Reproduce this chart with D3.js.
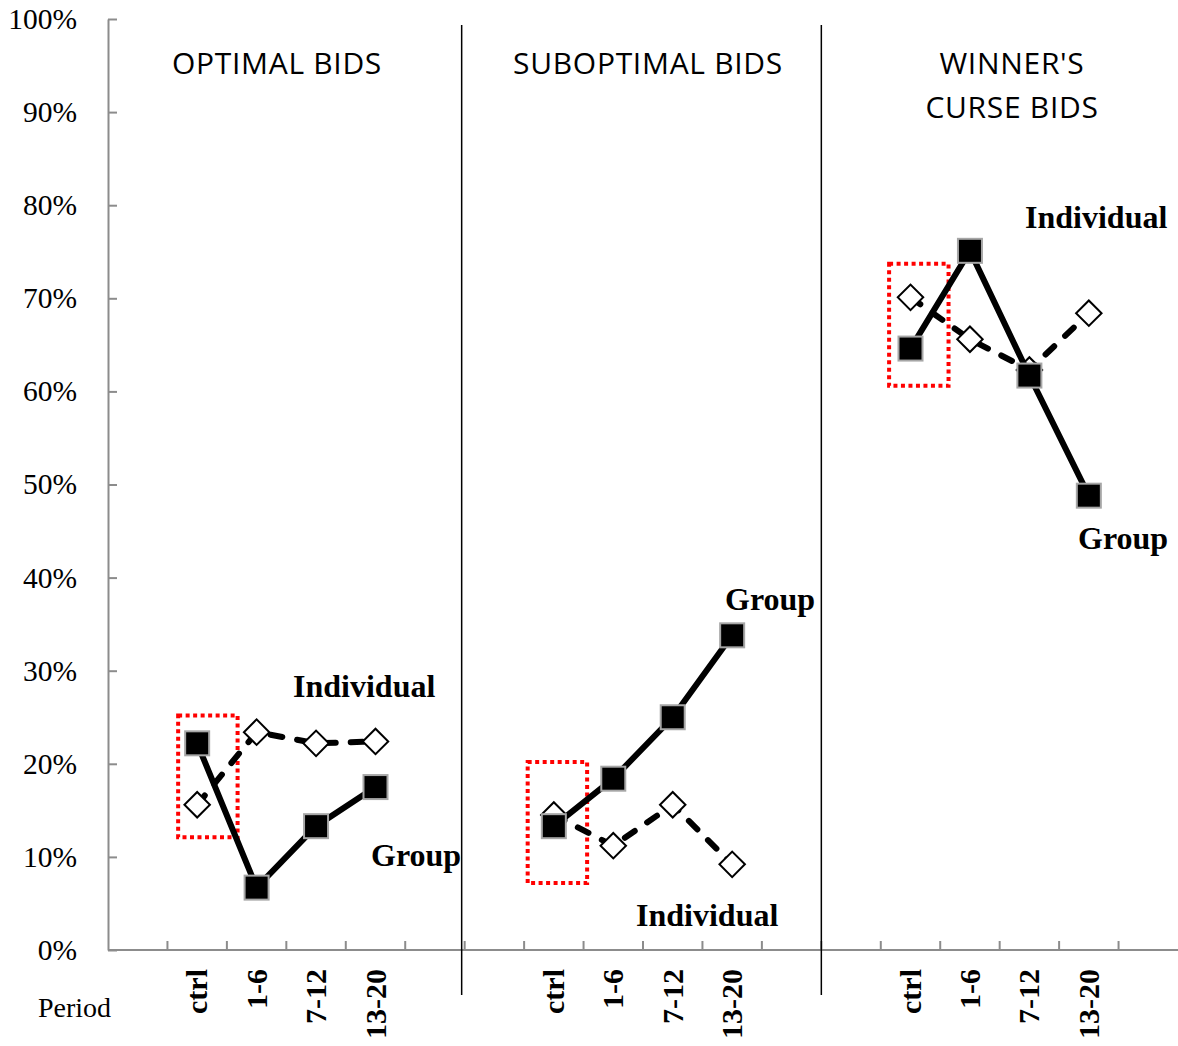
<!DOCTYPE html>
<html>
<head>
<meta charset="utf-8">
<script src="https://cdn.jsdelivr.net/npm/d3@7"></script>
<style>
  html, body { margin: 0; padding: 0; background: #fff; }
  svg { display: block; }
</style>
</head>
<body>
<svg id="chart" width="1178" height="1046"></svg>
<script>
// ---------- DATA ----------
const periods = ["ctrl", "1-6", "7-12", "13-20"];
const panelTitles = [["OPTIMAL BIDS"], ["SUBOPTIMAL BIDS"], ["WINNER'S", "CURSE BIDS"]];
const groupValues = [
  [0.222, 0.067, 0.133, 0.175],
  [0.133, 0.184, 0.250, 0.338],
  [0.646, 0.751, 0.617, 0.488]
];
const individualValues = [
  [0.156, 0.234, 0.222, 0.224],
  [0.145, 0.112, 0.156, 0.092],
  [0.701, 0.656, 0.623, 0.684]
];
const highlightRanges = [
  [0.121, 0.252],
  [0.072, 0.202],
  [0.606, 0.737]
];
const yTickValues = [0, 0.1, 0.2, 0.3, 0.4, 0.5, 0.6, 0.7, 0.8, 0.9, 1.0];
const xAxisTitle = "Period";
const seriesNames = ["Group", "Individual"];

// ---------- LAYOUT ----------
const svg = d3.select("#chart");
const mLeft = 108, mRight = 1178, mTop = 19, mBottom = 950;

// 18 bands: each panel = [blank, ctrl, 1-6, 7-12, 13-20, blank]
const bands = [];
panelTitles.forEach((_, p) => {
  bands.push(`p${p}-pre`);
  periods.forEach(c => bands.push(`p${p}-${c}`));
  bands.push(`p${p}-post`);
});
const x = d3.scaleBand().domain(bands).range([mLeft, mRight]).padding(0);
const bw = x.bandwidth();
const cx = (p, c) => x(`p${p}-${c}`) + bw / 2;
const y = d3.scaleLinear().domain([0, 1]).range([mBottom, mTop]);

const gray = "#8c8c8c";
const serif = "'Liberation Serif', 'Times New Roman', serif";
const sans = "'Open Sans', 'Noto Sans', sans-serif";

// ---------- Y AXIS ----------
const yAxis = d3.axisLeft(y)
  .tickValues(yTickValues)
  .tickFormat(d3.format(".0%"))
  .tickSizeInner(-9)
  .tickSizeOuter(0)
  .tickPadding(31);
const gy = svg.append("g").attr("transform", `translate(${mLeft},0)`).call(yAxis);
gy.select(".domain").attr("stroke", gray).attr("stroke-width", 2);
gy.selectAll(".tick line").attr("stroke", gray).attr("stroke-width", 2);
gy.selectAll(".tick text")
  .attr("font-family", serif).attr("font-size", 29.5).attr("fill", "#000")
  .attr("dy", "0.32em");

// ---------- X AXIS ----------
svg.append("line")
  .attr("x1", mLeft).attr("x2", mRight).attr("y1", mBottom).attr("y2", mBottom)
  .attr("stroke", gray).attr("stroke-width", 2);
const boundaries = bands.slice(1).map(b => x(b));
svg.append("g").selectAll("line").data(boundaries).join("line")
  .attr("x1", d => d).attr("x2", d => d)
  .attr("y1", mBottom - 9).attr("y2", mBottom)
  .attr("stroke", gray).attr("stroke-width", 2);

// category labels
panelTitles.forEach((_, p) => {
  periods.forEach(c => {
    svg.append("text")
      .attr("transform", `translate(${cx(p, c) + 10},969) rotate(-90)`)
      .attr("text-anchor", "end")
      .attr("font-family", serif).attr("font-weight", "bold").attr("font-size", 30)
      .text(c);
  });
});
svg.append("text")
  .attr("x", 38).attr("y", 1017)
  .attr("font-family", serif).attr("font-size", 28)
  .text(xAxisTitle);

// panel separators
[[6, -3], [12, 0]].forEach(([i, off]) => {
  const sx = x(bands[i]) + off;
  svg.append("line")
    .attr("x1", sx).attr("x2", sx).attr("y1", 25).attr("y2", 995)
    .attr("stroke", "#000").attr("stroke-width", 1.5);
});

// panel titles
const titleCenters = [277, 648, 1012];
panelTitles.forEach((lines, p) => {
  lines.forEach((t, i) => {
    svg.append("text")
      .attr("x", titleCenters[p]).attr("y", 73.5 + i * 44)
      .attr("text-anchor", "middle")
      .attr("font-family", sans).attr("font-size", 30)
      .attr("letter-spacing", 0.7)
      .text(t);
  });
});

// highlight boxes
const boxOffsets = [-0.32, -0.44, -0.36];
highlightRanges.forEach((r, p) => {
  const x0 = cx(p, "ctrl") + bw * boxOffsets[p];
  svg.append("rect")
    .attr("x", x0).attr("width", bw)
    .attr("y", y(r[1])).attr("height", y(r[0]) - y(r[1]))
    .attr("fill", "none").attr("stroke", "#ff0000").attr("stroke-width", 4)
    .attr("stroke-dasharray", "4,3.5");
});

// ---------- SERIES ----------
const line = d3.line().x(d => d[0]).y(d => d[1]);

// Individual (dashed + diamonds)
individualValues.forEach((vals, p) => {
  const pts = vals.map((v, i) => [cx(p, periods[i]), y(v)]);
  svg.append("path").attr("d", line(pts))
    .attr("fill", "none").attr("stroke", "#000").attr("stroke-width", 6)
    .attr("stroke-linecap", "round").attr("stroke-dasharray", "12,15");
  svg.append("g").selectAll("rect").data(pts).join("rect")
    .attr("x", -9).attr("y", -9).attr("width", 18).attr("height", 18)
    .attr("transform", d => `translate(${d[0]},${d[1]}) rotate(45)`)
    .attr("fill", "#fff").attr("stroke", "#000").attr("stroke-width", 2);
});

// Group (solid + squares)
groupValues.forEach((vals, p) => {
  const pts = vals.map((v, i) => [cx(p, periods[i]), y(v)]);
  svg.append("path").attr("d", line(pts))
    .attr("fill", "none").attr("stroke", "#000").attr("stroke-width", 6);
  svg.append("g").selectAll("rect").data(pts).join("rect")
    .attr("x", d => d[0] - 12).attr("y", d => d[1] - 12)
    .attr("width", 24).attr("height", 24)
    .attr("fill", "#000").attr("stroke", "#a6a6a6").attr("stroke-width", 2);
});

// series annotations
const annotations = [
  { text: seriesNames[1], x: 293, v: 0.272 },
  { text: seriesNames[0], x: 371, v: 0.090 },
  { text: seriesNames[0], x: 725, v: 0.365 },
  { text: seriesNames[1], x: 636, v: 0.026 },
  { text: seriesNames[1], x: 1025, v: 0.776 },
  { text: seriesNames[0], x: 1078, v: 0.431 }
];
svg.append("g").selectAll("text").data(annotations).join("text")
  .attr("x", d => d.x).attr("y", d => y(d.v))
  .attr("font-family", serif).attr("font-weight", "bold").attr("font-size", 32)
  .text(d => d.text);
</script>
</body>
</html>
